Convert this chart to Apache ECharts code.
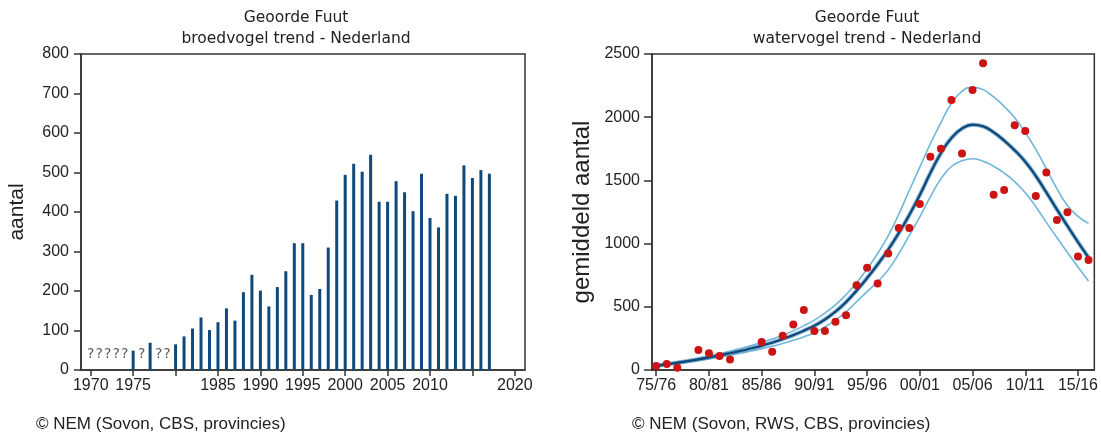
<!DOCTYPE html>
<html><head><meta charset="utf-8">
<script src="https://cdn.jsdelivr.net/npm/echarts@6/dist/echarts.min.js"></script>
<style>html,body{margin:0;padding:0;background:#fff}#c{width:1101px;height:433px}</style>
</head><body><div id="c"></div>
<script>
// ---- left chart: breeding birds ----
const breedYears = [1975,1977,1980,1981,1982,1983,1984,1985,1986,1987,1988,1989,1990,1991,1992,1993,1994,1995,1996,1997,1998,1999,2000,2001,2002,2003,2004,2005,2006,2007,2008,2009,2010,2011,2012,2013,2014,2015,2016,2017];
const breedValues = [49,69,65,85,105,133,101,121,156,125,197,241,201,161,210,250,321,321,190,205,310,429,494,522,502,545,426,426,478,450,402,497,385,361,446,441,518,486,506,497];
const missingYears = [1970,1971,1972,1973,1974,1976,1978,1979];
const breedTickYears = [1970,1975,1980,1985,1990,1995,2000,2005,2010,2015,2020];
const breedLabelYears = [1970,1975,1985,1990,1995,2000,2005,2010,2020];

// ---- right chart: waterbirds ----
const seasons = [1975,1976,1977,1978,1979,1980,1981,1982,1983,1984,1985,1986,1987,1988,1989,1990,1991,1992,1993,1994,1995,1996,1997,1998,1999,2000,2001,2002,2003,2004,2005,2006,2007,2008,2009,2010,2011,2012,2013,2014,2015,2016];
const counts = [32,47,18,null,158,132,110,84,null,null,221,145,271,360,474,308,308,382,434,671,808,684,921,1124,1124,1313,1687,1750,2137,1713,2216,2427,1387,1424,1937,1890,1377,1563,1187,1248,898,871];
const trend = [34,45,57,70,84,100,116,133,151,171,192,217,245,276,311,350,400,462,537,628,728,835,952,1082,1226,1385,1558,1715,1835,1910,1940,1928,1880,1815,1738,1648,1535,1405,1270,1140,1012,890];
const upper = [40,52,65,79,95,112,130,149,170,193,218,245,275,310,350,395,450,515,595,690,800,922,1062,1232,1420,1605,1790,1958,2110,2205,2236,2218,2160,2085,1995,1880,1745,1592,1435,1302,1215,1160];
const lower = [28,38,49,61,74,88,102,117,133,150,168,188,210,235,262,295,340,395,460,540,620,700,792,920,1065,1212,1370,1512,1610,1655,1671,1652,1612,1558,1490,1402,1292,1168,1048,930,815,705];
const seasonTickYears = [1975,1980,1985,1990,1995,2000,2005,2010,2015];

const pad2 = n => String(n % 100).padStart(2, '0');
const seasonLabel = y => pad2(y) + '/' + pad2(y + 1);
const pairs = (xs, ys) => xs.map((x, i) => [x, ys[i]]).filter(p => p[1] != null);

const AX = '#333';
const LBL = {color: '#222', fontSize: 16, fontFamily: 'Liberation Sans'};
const TF = 'DejaVu Sans';
const TFONT = '15.5px "DejaVu Sans"';
const SM = 0.5;

const chart = echarts.init(document.getElementById('c'), null, {renderer: 'canvas'});
chart.setOption({
  animation: false,
  backgroundColor: '#fff',
  grid: [
    {left: 81, top: 54, width: 444, height: 316, show: true, borderColor: AX, borderWidth: 1.5, backgroundColor: 'transparent'},
    {left: 652, top: 54, width: 444, height: 316, show: true, borderColor: AX, borderWidth: 1.5, backgroundColor: 'transparent'}
  ],
  xAxis: [
    {type: 'value', gridIndex: 0, min: 1968.85, max: 2021.2,
     axisLine: {show: true, onZero: false, lineStyle: {color: AX, width: 1.5}},
     axisTick: {show: true, length: 6, customValues: breedTickYears, lineStyle: {color: AX, width: 1.5}},
     axisLabel: Object.assign({margin: 8, customValues: breedLabelYears, formatter: v => String(v)}, LBL),
     splitLine: {show: false}},
    {type: 'value', gridIndex: 1, min: 1974.6, max: 2016.55,
     axisLine: {show: true, onZero: false, lineStyle: {color: AX, width: 1.5}},
     axisTick: {show: true, length: 6, customValues: seasonTickYears, lineStyle: {color: AX, width: 1.5}},
     axisLabel: Object.assign({margin: 8, customValues: seasonTickYears, formatter: v => seasonLabel(Math.round(v))}, LBL),
     splitLine: {show: false}}
  ],
  yAxis: [
    {type: 'value', gridIndex: 0, min: 0, max: 800, interval: 100,
     name: 'aantal', nameLocation: 'middle', nameGap: 53,
     nameTextStyle: {fontSize: 21, color: '#222', fontFamily: 'Liberation Sans'},
     axisLine: {show: true, onZero: false, lineStyle: {color: AX, width: 1.5}},
     axisTick: {show: true, length: 7, lineStyle: {color: AX, width: 1.5}},
     axisLabel: Object.assign({margin: 12, formatter: v => String(v)}, LBL),
     splitLine: {show: false}},
    {type: 'value', gridIndex: 1, min: 0, max: 2500, interval: 500,
     name: 'gemiddeld aantal', nameLocation: 'middle', nameGap: 58,
     nameTextStyle: {fontSize: 24, color: '#222', fontFamily: 'Liberation Sans'},
     axisLine: {show: true, onZero: false, lineStyle: {color: AX, width: 1.5}},
     axisTick: {show: true, length: 8, lineStyle: {color: AX, width: 1.5}},
     axisLabel: Object.assign({margin: 12, formatter: v => String(v)}, LBL),
     splitLine: {show: false}}
  ],
  graphic: [
    {type: 'text', x: 296, y: 18, style: {text: 'Geoorde Fuut', fill: '#222', font: TFONT, align: 'center', verticalAlign: 'middle'}},
    {type: 'text', x: 296, y: 39, style: {text: 'broedvogel trend - Nederland', fill: '#222', font: TFONT, align: 'center', verticalAlign: 'middle'}},
    {type: 'text', x: 867, y: 18, style: {text: 'Geoorde Fuut', fill: '#222', font: TFONT, align: 'center', verticalAlign: 'middle'}},
    {type: 'text', x: 867, y: 39, style: {text: 'watervogel trend - Nederland', fill: '#222', font: TFONT, align: 'center', verticalAlign: 'middle'}},
    {type: 'text', x: 36, y: 424, style: {text: '© NEM (Sovon, CBS, provincies)', fill: '#222', font: '17px "Liberation Sans"', align: 'left', verticalAlign: 'middle'}},
    {type: 'text', x: 632, y: 424, style: {text: '© NEM (Sovon, RWS, CBS, provincies)', fill: '#222', font: '17px "Liberation Sans"', align: 'left', verticalAlign: 'middle'}}
  ],
  series: [
    {type: 'bar', xAxisIndex: 0, yAxisIndex: 0, barWidth: 3, data: pairs(breedYears, breedValues),
     itemStyle: {color: '#0d4a7b'}},
    {type: 'scatter', xAxisIndex: 0, yAxisIndex: 0, data: missingYears.map(y => [y, 0]),
     symbolSize: 1, itemStyle: {color: 'rgba(0,0,0,0)'},
     label: {show: true, position: 'top', distance: 8, formatter: '?', color: '#333', fontSize: 14, fontFamily: TF}},
    {type: 'line', xAxisIndex: 1, yAxisIndex: 1, data: pairs(seasons, upper), smooth: SM, symbol: 'none',
     lineStyle: {color: '#6fb6da', width: 1.6}, z: 2},
    {type: 'line', xAxisIndex: 1, yAxisIndex: 1, data: pairs(seasons, lower), smooth: SM, symbol: 'none',
     lineStyle: {color: '#6fb6da', width: 1.6}, z: 2},
    {type: 'line', xAxisIndex: 1, yAxisIndex: 1, data: pairs(seasons, trend), smooth: SM, symbol: 'none',
     lineStyle: {color: '#5d9cc6', width: 4.5, opacity: 0.6}, z: 3},
    {type: 'line', xAxisIndex: 1, yAxisIndex: 1, data: pairs(seasons, trend), smooth: SM, symbol: 'none',
     lineStyle: {color: '#0f4a7a', width: 2.4}, z: 4},
    {type: 'scatter', xAxisIndex: 1, yAxisIndex: 1, data: pairs(seasons, counts), symbolSize: 8,
     itemStyle: {color: '#cc1414', opacity: 1}, z: 5}
  ]
});
</script></body></html>
